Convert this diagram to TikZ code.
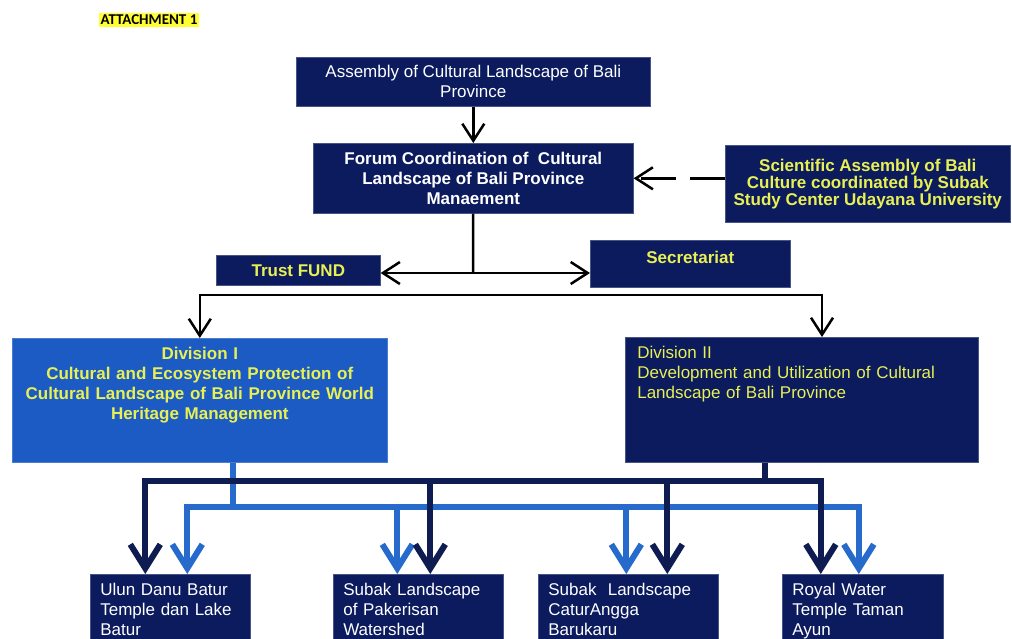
\documentclass[tikz,border=0pt]{standalone}
\usepackage{fontspec}
\setmainfont{Liberation Sans}
\newfontfamily\attfont{Carlito}
\usetikzlibrary{arrows.meta}

\definecolor{navy}{RGB}{11,27,94}
\definecolor{divblue}{RGB}{29,91,196}
\definecolor{deepnavy}{RGB}{14,28,82}
\definecolor{skyline}{RGB}{38,106,204}
\definecolor{boxyellow}{RGB}{232,240,84}
\definecolor{marker}{RGB}{255,255,51}

\begin{document}
\begin{tikzpicture}[x=1pt,y=-1pt,
        >={Straight Barb[length=17pt,width=22pt]},
        box/.style={fill=navy, draw=navy!75!white, line width=0.6pt, anchor=north west, inner sep=0pt, font=\fontsize{17}{20}\selectfont},
        bold/.style={font=\fontsize{17}{20}\selectfont\bfseries},
        bottombox/.style={box, text=white, inner xsep=10pt, inner ysep=6pt, text height=15pt, text depth=38pt, align=left},
        blackarrow/.style={draw=black, line width=2.5pt},
        darkarrow/.style={draw=deepnavy, line width=6pt, -{Straight Barb[length=24pt,width=30pt]}},
        lightarrow/.style={draw=skyline, line width=6pt, -{Straight Barb[length=24pt,width=30pt]}},
        darkbar/.style={draw=deepnavy, line width=6pt},
        lightbar/.style={draw=skyline, line width=6pt}]
                \fill[white] (0,0) rectangle (1012,638);
                \useasboundingbox (0,0) rectangle (1012,638);

                \node[fill=marker, font=\attfont\fontsize{15}{18}\selectfont\bfseries, inner xsep=1.5pt, inner ysep=2.5pt] (attach) at (149,20) {ATTACHMENT 1};

                \node[box, text=white, minimum width=354pt, minimum height=49pt, align=center] (assembly) at (296,57) {Assembly of Cultural Landscape of Bali\\Province};
                \node[box, text=white, bold, minimum width=320pt, minimum height=70pt, align=center] (forum) at (313,143) {Forum Coordination of\ \ Cultural\\Landscape of Bali Province\\Manaement};
                \node[box, text=boxyellow, font=\fontsize{17}{15.5}\selectfont\bfseries, minimum width=285pt, minimum height=77pt, align=center] (science) at (725,145) {Scientific Assembly of Bali\\Culture coordinated by Subak\\Study Center Udayana University};
                \node[box, text=boxyellow, bold, minimum width=164pt, minimum height=30pt] (trust) at (216,255) {Trust FUND};
                \node[box, text=boxyellow, bold, minimum width=200pt, inner ysep=6pt, text height=17pt, text depth=18pt] (secretariat) at (590,240) {Secretariat};

                \node[box, fill=divblue, draw=divblue!80!white, text=boxyellow, bold, text width=363pt, inner xsep=6pt, inner ysep=6pt, text height=15pt, text depth=97pt, align=center] (divone) at (12,338) {Division I\\Cultural and Ecosystem Protection of\\Cultural Landscape of Bali Province World\\Heritage Management};
                \node[box, text=boxyellow, text width=329pt, inner xsep=12pt, inner ysep=6pt, text height=15pt, text depth=98pt, align=left] (divtwo) at (625,337) {Division II\\Development and Utilization of Cultural\\Landscape of Bali Province};

                \node[bottombox, text width=140pt] (ulun) at (90,574) {Ulun Danu Batur\\Temple dan Lake\\Batur};
                \node[bottombox, text width=150pt] (pakerisan) at (333,574) {Subak Landscape\\of Pakerisan\\Watershed};
                \node[bottombox, text width=160pt] (catur) at (538,574) {Subak\ \ Landscape\\CaturAngga\\Barukaru};
                \node[bottombox, text width=141pt] (royal) at (782,574) {Royal Water\\Temple Taman\\Ayun};

                \coordinate (hub) at (473,273);
                \coordinate (split) at (822,295);
                \coordinate (dk) at (765,481);
                \coordinate (lt) at (233,507);

                \draw[blackarrow, ->] (assembly) -- (forum);
                \draw[blackarrow, ->, dash pattern=on 35pt off 14pt] (science.west |- forum.east) -- (forum.east);
                \draw[blackarrow] (forum) -- (hub);
                \draw[blackarrow, <->] (trust.east |- hub) -- (secretariat.west |- hub);
                \draw[blackarrow, <->] (divone.north) |- (split) -- (split |- divtwo.north);

                \draw[lightbar] (divone.south -| lt) -- (lt);
                \draw[lightarrow] (lt) -| ([xshift=17pt]ulun.north);
                \draw[lightarrow] (lt) -| ([xshift=-4pt]royal.north);
                \draw[lightarrow] ([xshift=-21pt]pakerisan.north |- lt) -- ([xshift=-21pt]pakerisan.north);
                \draw[lightarrow] ([xshift=-2pt]catur.north |- lt) -- ([xshift=-2pt]catur.north);

                \draw[darkbar] (divtwo.south -| dk) -- (dk);
                \draw[darkarrow] (dk) -| ([xshift=-25pt]ulun.north);
                \draw[darkarrow] (dk) -| ([xshift=-42pt]royal.north);
                \draw[darkarrow] ([xshift=12pt]pakerisan.north |- dk) -- ([xshift=12pt]pakerisan.north);
                \draw[darkarrow] ([xshift=39pt]catur.north |- dk) -- ([xshift=39pt]catur.north);
            \end{tikzpicture}
\end{document}
